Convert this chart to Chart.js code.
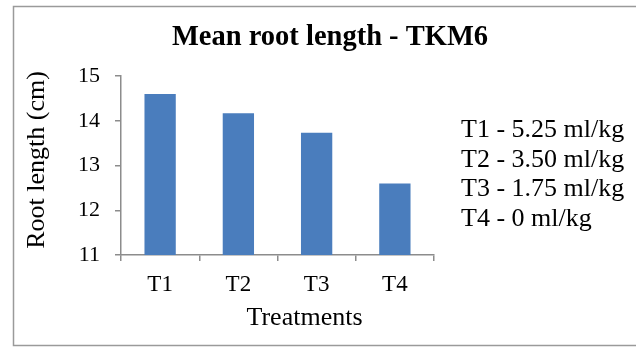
<!DOCTYPE html>
<html>
<head>
<meta charset="utf-8">
<script src="https://cdn.jsdelivr.net/npm/chart.js@4"></script>
<style>
  html, body { margin: 0; padding: 0; background: #fff; }
  .chart-frame { position: relative; width: 636px; height: 348px; }
</style>
</head>
<body>
<div class="chart-frame"><canvas id="rootChart"></canvas></div>
<script>
const treatments = ["T1", "T2", "T3", "T4"];
const rootLength = [14.6, 14.17, 13.73, 12.6];
const yTicks = [11, 12, 13, 14, 15];
const doseNotes = ["T1 - 5.25 ml/kg", "T2 - 3.50 ml/kg", "T3 - 1.75 ml/kg", "T4 - 0 ml/kg"];
const chartTitle = "Mean root length - TKM6";
const xTitle = "Treatments";
const yTitle = "Root length (cm)";

const serif = "'Liberation Serif', 'Times New Roman', serif";
const axisGray = "#8c8c8c";

// border, titles and the dose notes on the right
const decorPlugin = {
  id: "decorPlugin",
  beforeDraw(chart) {
    const { ctx } = chart;
    ctx.save();
    ctx.strokeStyle = "#9a9a9a";
    ctx.lineWidth = 1.5;
    ctx.strokeRect(13.5, 6.5, 640, 339);
    ctx.restore();
  },
  afterDraw(chart) {
    const { ctx } = chart;
    ctx.save();
    ctx.fillStyle = "#000";
    ctx.textBaseline = "alphabetic";

    ctx.font = `bold 28.5px ${serif}`;
    ctx.textAlign = "center";
    ctx.fillText(chartTitle, 330, 45);

    ctx.font = `26px ${serif}`;
    ctx.fillText(xTitle, 304.5, 325);

    ctx.save();
    ctx.translate(43.5, 160);
    ctx.rotate(-Math.PI / 2);
    ctx.fillText(yTitle, 0, 0);
    ctx.restore();

    ctx.font = `26px ${serif}`;
    ctx.textAlign = "left";
    doseNotes.forEach((line, index) => {
      ctx.fillText(line, 461, 137 + index * 29.5);
    });
    ctx.restore();
  }
};

new Chart(document.getElementById("rootChart"), {
  type: "bar",
  data: {
    labels: treatments,
    datasets: [{
      data: rootLength,
      backgroundColor: "#4a7dbd",
      borderWidth: 0,
      categoryPercentage: 1,
      barPercentage: 0.4
    }]
  },
  options: {
    responsive: true,
    maintainAspectRatio: false,
    animation: false,
    layout: { padding: { top: 76, right: 202, bottom: 0, left: 13 } },
    plugins: {
      legend: { display: false },
      tooltip: { enabled: false }
    },
    scales: {
      x: {
        grid: {
          offset: true,
          drawOnChartArea: false,
          drawTicks: true,
          tickLength: 6,
          color: axisGray,
          lineWidth: 1.5
        },
        border: { color: axisGray, width: 1.5 },
        ticks: {
          color: "#000",
          padding: 10,
          font: { family: serif, size: 23 }
        },
        afterFit(scale) {
          scale.height = 93;
        }
      },
      y: {
        min: yTicks[0],
        max: yTicks[yTicks.length - 1],
        grid: {
          drawOnChartArea: false,
          drawTicks: true,
          tickLength: 6,
          color: axisGray,
          lineWidth: 1.5
        },
        border: { color: axisGray, width: 1.5 },
        afterBuildTicks(scale) {
          scale.ticks = yTicks.map((value) => ({ value }));
        },
        ticks: {
          color: "#000",
          padding: 15,
          font: { family: serif, size: 22 }
        },
        afterFit(scale) {
          scale.width = 108;
        }
      }
    }
  },
  plugins: [decorPlugin]
});
</script>
</body>
</html>
